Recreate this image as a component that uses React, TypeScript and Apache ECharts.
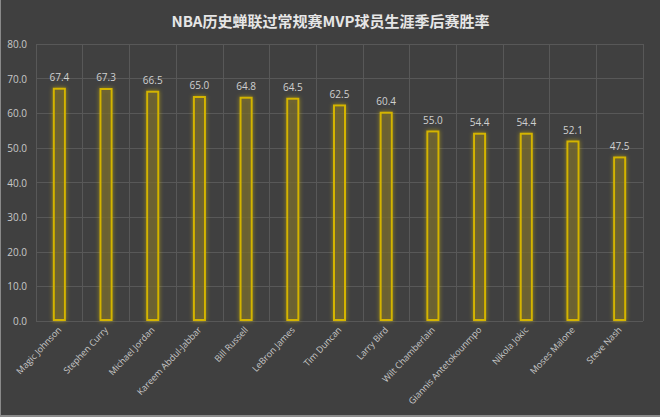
import React, { useEffect, useRef } from "react";
import * as echarts from "echarts";

const players = [
  "Magic Johnson",
  "Stephen Curry",
  "Michael Jordan",
  "Kareem Abdul-Jabbar",
  "Bill Russell",
  "LeBron James",
  "Tim Duncan",
  "Larry Bird",
  "Wilt Chamberlain",
  "Giannis Antetokounmpo",
  "Nikola Jokic",
  "Moses Malone",
  "Steve Nash",
];
const winRates = [67.4, 67.3, 66.5, 65.0, 64.8, 64.5, 62.5, 60.4, 55.0, 54.4, 54.4, 52.1, 47.5];
const title = "NBA历史蝉联过常规赛MVP球员生涯季后赛胜率";

export default function App() {
  const ref = useRef<HTMLDivElement>(null);
  useEffect(() => {
    const chart = echarts.init(ref.current!, null, { renderer: "svg" });
    chart.setOption({
      animation: false,
      backgroundColor: "#404040",
      title: {
        text: title,
        left: "center",
        top: 8,
        textStyle: {
          color: "#e6e6e6",
          fontSize: 15,
          fontWeight: "bold",
          fontFamily: "'Noto Sans CJK SC', sans-serif",
        },
      },
      grid: { left: 35, right: 17, top: 44, bottom: 94 },
      xAxis: {
        type: "category",
        data: players,
        axisLine: { show: false },
        axisTick: { show: false },
        splitLine: { show: true, lineStyle: { color: "#585858", width: 1 } },
        axisLabel: {
          rotate: 47,
          interval: 0,
          color: "#c8c8c8",
          fontSize: 9,
          margin: 7,
          fontFamily: "'Open Sans', sans-serif",
        },
      },
      yAxis: {
        type: "value",
        min: 0,
        max: 80,
        interval: 10,
        axisLine: { show: false },
        axisTick: { show: false },
        splitLine: { lineStyle: { color: "#585858", width: 1 } },
        axisLabel: {
          color: "#c8c8c8",
          fontSize: 10,
          margin: 9,
          formatter: (v: number) => v.toFixed(1),
          fontFamily: "'Open Sans', sans-serif",
        },
      },
      series: [
        {
          type: "bar",
          data: winRates,
          barWidth: 13,
          itemStyle: {
            color: "rgba(60,60,50,0.6)",
            borderColor: "#d4b400",
            borderWidth: 2,
            shadowColor: "rgba(230,200,0,0.6)",
            shadowBlur: 4,
          },
          label: {
            show: true,
            position: "top",
            distance: 6,
            color: "#d0d0d0",
            fontSize: 10,
            formatter: (p: any) => p.value.toFixed(1),
            fontFamily: "'Open Sans', sans-serif",
          },
        },
      ],
    });
    return () => chart.dispose();
  }, []);
  return (
    <div
      ref={ref}
      style={{ width: 660, height: 417, position: "fixed", left: 0, top: 0, boxSizing: "border-box", borderLeft: "1px solid #8a8a8a", borderBottom: "2px solid #8a8a8a" }}
    />
  );
}
